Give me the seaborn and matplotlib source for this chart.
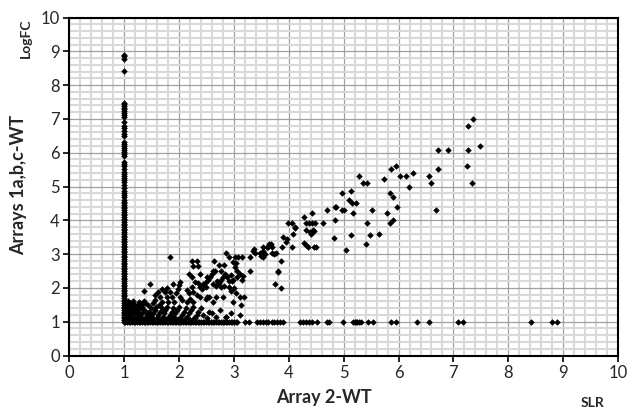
import matplotlib
matplotlib.use("Agg")
import matplotlib.pyplot as plt
import seaborn as sns
import pandas as pd
from matplotlib.ticker import MultipleLocator

# ---- data ----
# points on the vertical line x = 1
col_y = [8.90, 8.85, 8.78, 8.42, 7.48, 7.44, 7.38, 7.33, 7.28, 7.22, 7.17, 7.12, 7.07,
         6.90, 6.80, 6.72, 6.63, 6.55, 6.50, 6.32, 6.26, 6.20, 6.14, 6.08, 6.02, 5.95,
         5.90, 5.72, 5.66, 5.60, 5.52, 5.42, 5.36, 5.30, 5.24, 5.18, 5.12, 5.05, 4.95,
         4.88, 4.82, 4.75, 4.68, 4.60, 4.55, 4.50, 4.45, 4.40, 4.35, 4.30, 4.25, 4.20,
         4.15, 4.10, 4.05, 4.00, 3.95, 3.90, 3.85, 3.80, 3.75, 3.70, 3.65, 3.60, 3.55,
         3.50, 3.45, 3.40, 3.35, 3.30, 3.25, 3.20, 3.15, 3.10, 3.05, 3.00, 2.95, 2.90,
         2.85, 2.80, 2.75, 2.70, 2.65, 2.60, 2.55, 2.50, 2.45, 2.40, 2.35, 2.30, 2.25,
         2.20, 2.15, 2.10, 2.05, 2.00, 1.95, 1.90, 1.85, 1.80, 1.75, 1.70, 1.65, 1.60,
         1.55, 1.50, 1.45, 1.40, 1.35, 1.30, 1.25, 1.20, 1.15, 1.10, 1.05, 1.00]

# points on the horizontal line y = 1
base_x = [1.02, 1.05, 1.08, 1.11, 1.14, 1.17, 1.20, 1.23, 1.26, 1.29, 1.32, 1.35, 1.38,
          1.41, 1.44, 1.47, 1.50, 1.53, 1.56, 1.59, 1.62, 1.65, 1.68, 1.71, 1.74, 1.77,
          1.80, 1.83, 1.86, 1.89, 1.92, 1.95, 1.98, 2.01, 2.04, 2.07, 2.10, 2.13, 2.16,
          2.19, 2.22, 2.25, 2.28, 2.31, 2.34, 2.37, 2.40, 2.43, 2.46, 2.49, 2.52, 2.55,
          2.58, 2.61, 2.64, 2.67, 2.70, 2.73, 2.76, 2.79, 2.82, 2.85, 2.88, 2.91, 2.94,
          2.97, 3.00, 3.03, 3.06, 3.20, 3.28, 3.42, 3.47, 3.53, 3.58, 3.62, 3.69, 3.73,
          3.78, 3.84, 3.90, 4.20, 4.25, 4.31, 4.37, 4.43, 4.52, 4.69, 4.73, 4.98, 5.17,
          5.20, 5.22, 5.25, 5.28, 5.31, 5.45, 5.54, 5.86, 5.96, 6.33, 6.55, 7.09, 7.18,
          8.41, 8.80, 8.89]

# dense patch just above the y = 1 line
patch_x = [1.03, 1.06, 1.09, 1.04, 1.07, 1.11, 1.14, 1.05, 1.09, 1.12, 1.16, 1.19,
           1.22, 1.27, 1.31, 1.34, 1.37, 1.21, 1.29, 1.39, 1.43, 1.47, 1.51, 1.46,
           1.57, 1.61, 1.66, 1.71, 1.76, 1.81, 1.85, 1.91, 1.98, 2.03, 2.10, 2.19,
           1.04, 1.08, 1.14, 1.19, 1.23, 1.02, 1.06, 1.15, 1.27, 1.33, 1.41, 1.49]
patch_y = [1.05, 1.08, 1.05, 1.18, 1.28, 1.08, 1.06, 1.35, 1.42, 1.22, 1.32, 1.05,
           1.08, 1.06, 1.08, 1.05, 1.10, 1.44, 1.22, 1.28, 1.06, 1.12, 1.05, 1.22,
           1.07, 1.05, 1.08, 1.06, 1.07, 1.05, 1.07, 1.06, 1.08, 1.05, 1.07, 1.06,
           1.48, 1.52, 1.38, 1.48, 1.42, 1.25, 1.62, 1.52, 1.18, 1.52, 1.15, 1.22]

# the remaining cloud of points
cloud_x = [1.05, 1.08, 1.10, 1.07, 1.12, 1.15, 1.18, 1.13, 1.20, 1.22, 1.25, 1.28, 1.24,
           1.30, 1.33, 1.36, 1.32, 1.38, 1.40, 1.42, 1.45, 1.48, 1.44, 1.50, 1.52, 1.55,
           1.58, 1.53, 1.60, 1.62, 1.65, 1.68, 1.63, 1.70, 1.72, 1.75, 1.78, 1.80, 1.83,
           1.86, 1.88, 1.90, 1.93, 1.96, 2.00, 2.02, 2.05, 2.08, 2.12, 2.15, 2.18, 2.22,
           2.25, 2.28, 2.32, 2.35, 2.40, 2.44, 2.50, 2.55, 2.60, 2.68, 2.75, 2.85, 2.95,
           3.10, 2.27, 1.10, 1.16, 1.26, 1.35,
           1.83, 2.23, 2.32, 2.26, 2.35, 2.18, 2.23, 2.38, 2.29, 2.35, 2.49, 2.23, 2.15,
           2.17, 2.26, 2.41, 2.32, 2.20, 2.25, 2.15, 2.38, 2.49, 1.47, 1.35, 2.01, 2.00,
           1.89, 1.77, 1.68, 1.62, 1.74, 1.83, 1.97, 1.94, 1.56, 1.65, 1.77, 1.86, 2.01,
           1.56, 1.68, 1.80, 1.91, 2.05,
           2.85, 2.91, 3.02, 3.08, 3.14, 2.99, 3.04, 2.63, 2.73, 2.82, 2.65, 2.61, 2.59,
           2.56, 2.77, 2.84, 2.79, 2.87, 2.76, 2.69, 3.02, 3.06, 3.11, 3.05, 2.99, 3.16,
           3.14, 2.94, 2.96, 2.90, 2.51, 2.53, 2.44, 2.49, 2.38, 2.62, 2.67, 2.73, 2.76,
           2.82, 2.91, 2.94, 3.00, 3.04, 3.10, 3.19, 2.51, 2.55, 2.68, 2.79, 2.61, 2.99,
           3.13, 2.85,
           3.35, 3.38, 3.30, 3.50, 3.52, 3.29, 3.67, 3.62, 3.53, 3.52, 3.70, 3.76, 3.86,
           3.81, 3.75, 3.86, 3.90, 3.97, 3.95, 4.08, 3.88, 4.05, 3.99, 4.05, 4.11, 4.28,
           4.31, 4.37, 4.32, 4.38, 4.28, 4.32, 3.36, 3.47, 3.56, 3.73, 3.80, 3.64, 3.69,
           3.61, 4.11,
           5.28, 5.36, 5.42, 4.96, 5.13, 5.10, 5.15, 5.22, 4.84, 4.69, 4.96, 5.01, 5.17,
           5.51, 4.43, 4.84, 4.43, 4.48, 5.43, 4.46, 5.47, 5.13, 4.83, 4.35, 4.45, 4.49,
           5.04, 5.41, 5.65, 4.63, 4.40, 4.44, 4.85,
           7.36, 7.26, 7.48, 6.71, 6.90, 7.26, 5.86, 5.95, 5.73, 6.03, 6.14, 6.26, 6.56,
           6.59, 6.71, 7.25, 7.33, 6.19, 5.84, 5.89, 5.98, 5.78, 5.84, 5.90, 6.68]
cloud_y = [1.10, 1.20, 1.30, 1.40, 1.15, 1.25, 1.35, 1.45, 1.10, 1.20, 1.30, 1.40, 1.50,
           1.15, 1.25, 1.35, 1.45, 1.55, 1.10, 1.20, 1.30, 1.40, 1.50, 1.15, 1.25, 1.35,
           1.45, 1.55, 1.10, 1.20, 1.30, 1.40, 1.50, 1.15, 1.25, 1.35, 1.45, 1.10, 1.20,
           1.30, 1.40, 1.15, 1.25, 1.35, 1.45, 1.10, 1.20, 1.30, 1.40, 1.15, 1.25, 1.35,
           1.45, 1.10, 1.20, 1.30, 1.40, 1.20, 1.12, 1.30, 1.25, 1.15, 1.35, 1.13, 1.25,
           1.20, 1.10, 1.55, 1.60, 1.58, 1.62,
           2.92, 2.80, 2.80, 2.65, 2.65, 2.41, 2.33, 2.41, 2.18, 2.14, 2.18, 2.04, 1.94,
           1.84, 1.89, 1.96, 1.79, 1.66, 1.59, 1.59, 1.72, 1.66, 2.12, 1.91, 2.18, 2.09,
           2.12, 1.99, 1.96, 1.89, 1.89, 1.89, 1.96, 1.84, 1.79, 1.74, 1.72, 1.74, 1.74,
           1.64, 1.59, 1.59, 1.59, 1.64,
           3.02, 2.91, 2.91, 2.91, 2.91, 2.78, 2.75, 2.81, 2.68, 2.68, 2.51, 2.51, 2.41,
           2.33, 2.51, 2.41, 2.33, 2.31, 2.23, 2.21, 2.61, 2.51, 2.41, 2.31, 2.23, 2.35,
           2.23, 2.38, 2.21, 2.21, 2.31, 2.23, 2.12, 2.02, 2.04, 2.12, 2.06, 2.14, 2.04,
           2.06, 2.02, 1.92, 1.99, 1.84, 1.72, 1.72, 1.72, 1.72, 1.72, 1.72, 1.59, 1.59,
           1.49, 1.13,
           3.10, 3.02, 2.91, 2.94, 2.91, 2.51, 3.30, 3.20, 3.20, 3.10, 3.02, 3.02, 2.81,
           2.51, 2.11, 2.01, 3.50, 3.44, 3.37, 3.59, 3.20, 3.20, 3.91, 3.91, 3.79, 4.11,
           3.91, 3.93, 3.71, 3.66, 3.32, 3.27, 3.14, 3.02, 3.00, 3.00, 2.48, 3.30, 3.22,
           3.20, 3.78,
           5.31, 5.11, 5.11, 4.80, 4.88, 4.60, 4.50, 4.50, 4.40, 4.30, 4.30, 4.30, 4.21,
           4.30, 4.23, 4.01, 3.91, 3.91, 3.91, 3.69, 3.58, 3.58, 3.49, 3.20, 3.20, 3.20,
           3.12, 3.30, 3.59, 3.91, 3.59, 3.71, 4.40,
           6.99, 6.79, 6.20, 6.08, 6.08, 6.08, 5.51, 5.61, 5.21, 5.31, 5.31, 5.41, 5.31,
           5.11, 5.51, 5.61, 5.11, 4.99, 4.80, 4.70, 4.40, 4.21, 3.91, 4.01, 4.30]

xs = [1.0] * len(col_y) + base_x + patch_x + cloud_x
ys = col_y + [1.0] * len(base_x) + patch_y + cloud_y
df = pd.DataFrame({"SLR": xs, "LogFC": ys})

sns.set_style("white")
plt.rcParams["font.family"] = ["Lato", "DejaVu Sans"]

fig = plt.figure(figsize=(6.3, 4.13), dpi=100)
ax = fig.add_axes([0.1103, 0.1392, 0.8706, 0.8184])

ax.set_xlim(0, 10)
ax.set_ylim(0, 10)
ax.xaxis.set_major_locator(MultipleLocator(1))
ax.yaxis.set_major_locator(MultipleLocator(1))
ax.xaxis.set_minor_locator(MultipleLocator(0.2))
ax.yaxis.set_minor_locator(MultipleLocator(0.2))
ax.grid(which="minor", color="#d9d9d9", linewidth=1.5, zorder=0)
ax.grid(which="major", color="#a0a0a0", linewidth=0.9, zorder=0.5)
ax.set_axisbelow(True)

sns.scatterplot(data=df, x="SLR", y="LogFC", ax=ax, marker="D", s=11,
                color="black", linewidth=0, zorder=3)

for sp in ax.spines.values():
    sp.set_visible(True)
    sp.set_color("black")
    sp.set_linewidth(1.5)

ax.tick_params(which="major", direction="out", length=4, width=1.2, color="black",
               labelsize=12, pad=3, bottom=True, left=True)
ax.tick_params(which="minor", length=0)
ax.set_xlabel("")
ax.set_ylabel("")

fig.text(324 / 630, 1 - 398 / 413, "Array 2-WT", ha="center", va="center",
         fontsize=13, fontweight="bold")
fig.text(19 / 630, 1 - 185 / 413, "Arrays 1a,b,c-WT", ha="center", va="center",
         rotation=90, fontsize=13, fontweight="bold")
fig.text(26 / 630, 1 - 38 / 413, "LogFC", ha="center", va="center",
         rotation=90, fontsize=10, fontweight="bold")
fig.text(593 / 630, 1 - 403 / 413, "SLR", ha="center", va="center",
         fontsize=10, fontweight="bold")

fig.savefig("out.png", dpi=100)
